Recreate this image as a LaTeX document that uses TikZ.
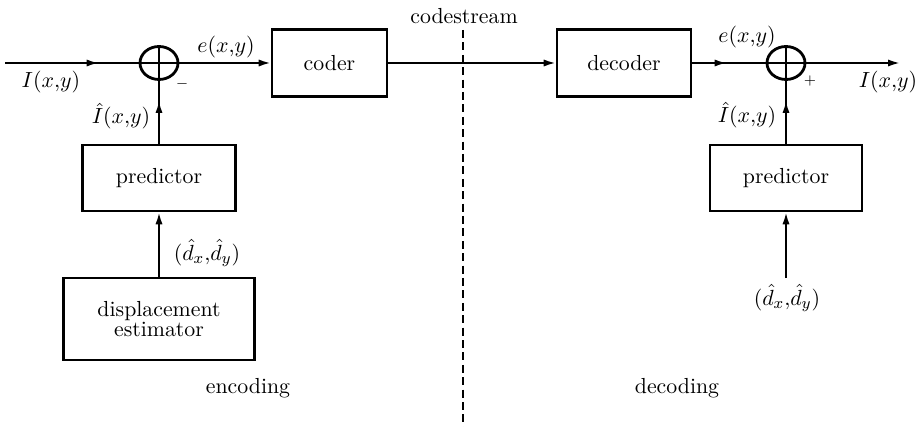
\documentclass[tikz,border=0pt]{standalone}
\usetikzlibrary{arrows.meta,shapes.geometric,decorations.markings}
\begin{document}
\begin{tikzpicture}[x=0.5pt,y=-0.5pt,
  font=\fontsize{10.9}{13}\selectfont,
  wire/.style={line width=1pt},
  tip/.style={-{Latex[length=6pt,width=3.6pt]}},
  midtip/.style={postaction={decorate},decoration={markings,
      mark=at position #1 with {\arrow{Latex[length=6pt,width=3.6pt]}}}},
  block/.style={draw,line width=1.3pt,rectangle,inner sep=0pt,align=center},
  summer/.style={draw,line width=1.4pt,ellipse,inner sep=0pt,
      minimum width=19pt,minimum height=16.5pt},
  lbl/.style={inner sep=0pt}]
\useasboundingbox (0,0) rectangle (915,427);

% encoder side
\coordinate (in) at (5,63);
\node[summer] (s1) at (159,63) {};
\node[block,minimum width=57.5pt,minimum height=33.5pt] (coder) at (329.5,63) {coder};
\node[block,minimum width=76.5pt,minimum height=33pt] (pred1) at (159,178) {predictor};
\node[block,minimum width=95.5pt,minimum height=41pt] (est) at (159,319)
  {displacement\\[-3pt]estimator};

% decoder side
\node[block,minimum width=67pt,minimum height=33.5pt] (decoder) at (624,63) {decoder};
\node[summer] (s2) at (786,63) {};
\node[block,minimum width=76pt,minimum height=33pt] (pred2) at (786,178) {predictor};
\coordinate (out) at (900,63);
\coordinate (din) at (786,278);

% cross lines inside the summing junctions
\draw[line width=1.2pt] (s1.north) -- (s1.south) (s1.west) -- (s1.east);
\draw[line width=1.2pt] (s2.north) -- (s2.south) (s2.west) -- (s2.east);

% channel boundary
\coordinate (dtop) at (463,30);
\coordinate (dbot) at (463,427);
\draw[line width=1pt,dash pattern=on 4pt off 2.2pt] (dtop) -- (dbot);

% connectors
\draw[wire,midtip=-20pt] (in) -- (s1.west);
\draw[wire,tip] (s1.east) -- (coder.west);
\draw[wire,tip] (coder.east) -- (decoder.west);
\draw[wire,midtip=-19.5pt] (decoder.east) -- (s2.west);
\draw[wire,tip] (s2.east) -- (out);
\draw[wire,midtip=-10pt] (pred1.north) -- (s1.south);
\draw[wire,tip] (est.north) -- (pred1.south);
\draw[wire,midtip=-10pt] (pred2.north) -- (s2.south);
\draw[wire,tip] (din) -- (pred2.south);

% labels
\node[lbl] (lin) at (51,82) {$I(x{,}y)$};
\node[lbl] (le1) at (226,47) {$e(x{,}y)$};
\node[lbl] (lm) at (182,84) {\scriptsize$-$};
\node[lbl] (lih1) at (121,116) {$\hat{I}(x{,}y)$};
\node[lbl] (ld1) at (207,253) {$(\hat{d}_x{,}\hat{d}_y)$};
\node[lbl] (lcs) at (464,16) {codestream};
\node[lbl] (le2) at (747,37) {$e(x{,}y)$};
\node[lbl] (lp) at (810,81) {\scriptsize$+$};
\node[lbl] (lout) at (888,82) {$I(x{,}y)$};
\node[lbl] (lih2) at (747,115) {$\hat{I}(x{,}y)$};
\node[lbl] (ld2) at (787,298) {$(\hat{d}_x{,}\hat{d}_y)$};
\node[lbl] (lenc) at (248,388) {encoding};
\node[lbl] (ldec) at (677,388) {decoding};
\end{tikzpicture}
\end{document}
